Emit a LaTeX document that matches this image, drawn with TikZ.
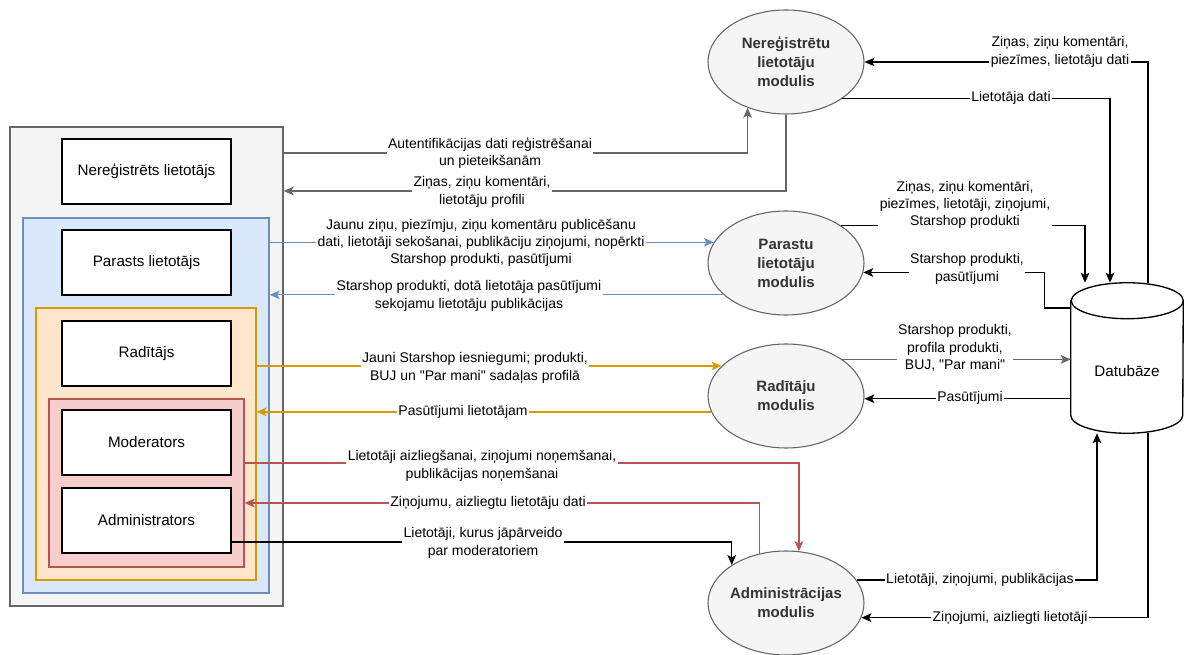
\documentclass[tikz,border=0pt]{standalone}
\usepackage{fontspec}
\setmainfont{Liberation Sans}[Ligatures=TeXOff]
\usepackage{tikz}
\usetikzlibrary{calc,fit,shapes.geometric,arrows.meta}

\definecolor{grayfill}{HTML}{F5F5F5}
\definecolor{grayline}{HTML}{666666}
\definecolor{bluefill}{HTML}{DAE8FC}
\definecolor{blueline}{HTML}{6C8EBF}
\definecolor{orangefill}{HTML}{FFE6CC}
\definecolor{orangeline}{HTML}{D79B00}
\definecolor{redfill}{HTML}{F8CECC}
\definecolor{redline}{HTML}{B85450}
\definecolor{modtextcol}{HTML}{333333}

\tikzset{
  grp/.style={line width=1pt, inner sep=0pt},
  userbox/.style={draw=black, fill=white, line width=1pt, minimum width=126.75pt,
    minimum height=48.75pt, font=\fontsize{11.4}{13.5}\selectfont},
  module/.style={ellipse, draw=grayline, fill=grayfill, line width=0.8pt,
    minimum width=117pt, minimum height=78pt, inner sep=0pt},
  modtext/.style={align=center, text=modtextcol, font=\bfseries\fontsize{11.25}{14.25}\selectfont},
  lbl/.style={fill=white, inner sep=1pt, align=center, font=\fontsize{10.5}{13}\selectfont},
  flow/.style={line width=1pt, -{Stealth[length=7.5pt, width=6.5pt, inset=1.8pt]}},
}

\begin{document}
\begin{tikzpicture}[x=0.75pt, y=-0.75pt]
    \fill[white] (0,0) rectangle (1185,655);
    \useasboundingbox (0,0) rectangle (1185,655);

    % user groups
    \node[grp, draw=grayline, fill=grayfill, fit={(10,127) (283,606)}] (usr) {};
    \node[grp, draw=blueline, fill=bluefill, fit={(23,218) (269,593)}] (blu) {};
    \node[grp, draw=orangeline, fill=orangefill, fit={(36,308) (256,580)}] (org) {};
    \node[grp, draw=redline, fill=redfill, fit={(49,399) (244,567)}] (redg) {};

    \node[userbox] (nereg) at (146.5,171.5) {Nereģistrēts lietotājs};
    \node[userbox] (parast) at (146.5,262.5) {Parasts lietotājs};
    \node[userbox] (radit) at (146.5,353.5) {Radītājs};
    \node[userbox] (moder) at (146.5,442.5) {Moderators};
    \node[userbox] (admin) at (146.5,520.5) {Administrators};

    % modules
    \node[module] (mod1) at (786,62) {};
    \node[module] (mod2) at (786,263) {};
    \node[module] (mod3) at (786,396) {};
    \node[module] (mod4) at (786,603) {};
    \node[modtext] (mod1t) at (mod1) {Nereģistrētu\\lietotāju\\modulis};
    \node[modtext] (mod2t) at (mod2) {Parastu\\lietotāju\\modulis};
    \node[modtext] (mod3t) at (mod3) {Radītāju\\modulis};
    \node[modtext] (mod4t) at (mod4) {Administrācijas\\modulis};

    % database
    \node[minimum width=84pt, minimum height=112.5pt, inner sep=0pt] (db) at (1127,358) {};
    \draw[fill=white, line width=1pt] ($(db.north west)+(0,18)$) -- ($(db.south west)+(0,-18)$)
      arc[start angle=180, end angle=360, x radius=42pt, y radius=13.5pt]
      -- ($(db.north east)+(0,18)$)
      arc[start angle=0, end angle=180, x radius=42pt, y radius=13.5pt] -- cycle;
    \draw[line width=1pt] ($(db.north east)+(0,18)$) arc[start angle=0, end angle=-180, x radius=42pt, y radius=13.5pt];
    \node[font=\fontsize{11.4}{13.5}\selectfont] (dbt) at ($(db.center)+(0,13)$) {Datubāze};

    % users <-> modules
    \draw[flow, grayline] (usr.east |- 0,153) -| (mod1.230);
    \draw[flow, grayline] (mod1.south) |- (usr.east |- 0,191);
    \draw[flow, blueline] (blu.east |- mod2.164) -- (mod2.164);
    \draw[flow, blueline] (mod2.207) -- (blu.east |- mod2.207);
    \draw[flow, orangeline] (org.east |- mod3.155) -- (mod3.155);
    \draw[flow, orangeline] (mod3.192) -- (org.east |- mod3.192);
    \draw[flow, redline] (redg.east |- 0,463) -| (mod4.76);
    \draw[flow, redline] (mod4.118) |- (redg.east |- 0,503);
    \draw[flow, black] (admin.east |- 0,542) -| (mod4.145);

    % modules <-> database
    \draw[flow] (db.north -| 1148,0) |- (mod1.east);
    \draw[flow] (mod1.327) -| (db.north -| 1110,0);
    \draw[flow] (mod2.34) -| (db.north -| 1085,0);
    \draw[flow] (db.west |- 0,308) -- ++(-26,0) |- (mod2.353);
    \draw[flow, grayline] (mod3.33) -- (db.west |- mod3.33);
    \draw[flow] (db.west |- mod3.358) -- (mod3.358);
    \draw[flow] (mod4.18) -| (db.south -| 1097,0);
    \draw[flow] (db.south -| 1148,0) |- (mod4.349);

    % labels
    \node[lbl] (l1) at (490,153) {Autentifikācijas dati reģistrēšanai\\un pieteikšanām};
    \node[lbl] (l2) at (482,192) {Ziņas, ziņu komentāri,\\lietotāju profili};
    \node[lbl] (l3) at (481,243) {Jaunu ziņu, piezīmju, ziņu komentāru publicēšanu\\dati, lietotāji sekošanai, publikāciju ziņojumi, nopērkti\\Starshop produkti, pasūtījumi};
    \node[lbl] (l4) at (469,296) {Starshop produkti, dotā lietotāja pasūtījumi\\sekojamu lietotāju publikācijas};
    \node[lbl] (l5) at (475,368) {Jauni Starshop iesniegumi; produkti,\\BUJ un "Par mani" sadaļas profilā};
    \node[lbl] (l6) at (463,412) {Pasūtījumi lietotājam};
    \node[lbl] (l7) at (482,466) {Lietotāji aizliegšanai, ziņojumi noņemšanai,\\publikācijas noņemšanai};
    \node[lbl] (l8) at (488,503) {Ziņojumu, aizliegtu lietotāju dati};
    \node[lbl] (l9) at (483,543) {Lietotāji, kurus jāpārveido\\par moderatoriem};

    \node[lbl] (r1) at (1060,52) {Ziņas, ziņu komentāri,\\piezīmes, lietotāju dati};
    \node[lbl] (r2) at (1011,98) {Lietotāja dati};
    \node[lbl] (r3) at (965,205) {Ziņas, ziņu komentāri,\\piezīmes, lietotāji, ziņojumi,\\Starshop produkti};
    \node[lbl] (r4) at (967,269) {Starshop produkti,\\pasūtījumi};
    \node[lbl] (r5) at (955,348) {Starshop produkti,\\profila produkti,\\BUJ, "Par mani"};
    \node[lbl] (r6) at (970,398) {Pasūtījumi};
    \node[lbl] (r7) at (980,580) {Lietotāji, ziņojumi, publikācijas};
    \node[lbl] (r8) at (1010,618) {Ziņojumi, aizliegti lietotāji};

    % \draw[help lines] (0,0) grid[step=50] (1185,655);
\end{tikzpicture}
\end{document}
